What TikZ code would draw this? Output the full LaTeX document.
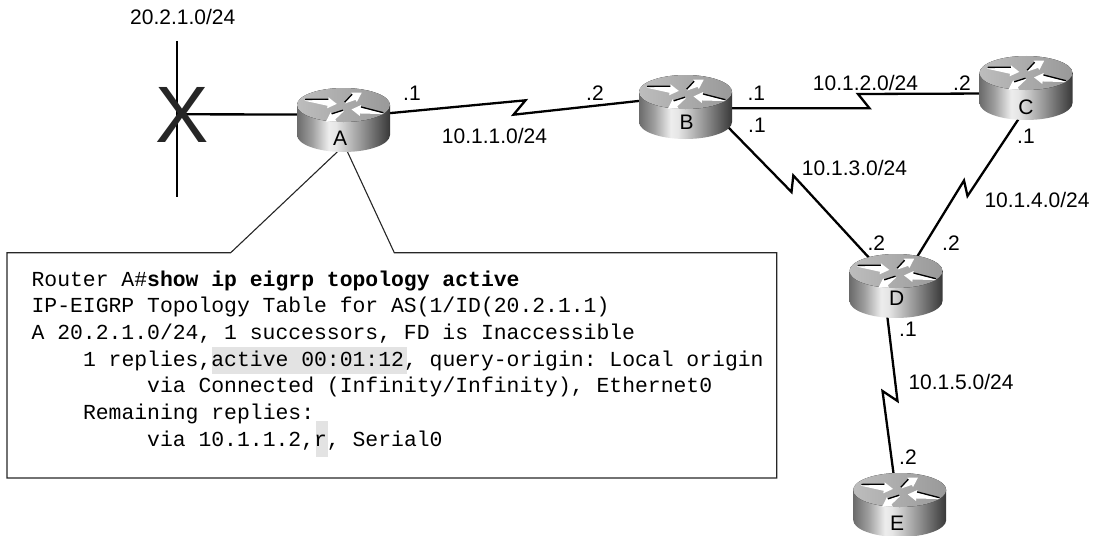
\documentclass[tikz,border=0pt]{standalone}
\usepackage{fontspec}
\setmainfont{Liberation Sans}
\setmonofont{Liberation Mono}
\usetikzlibrary{positioning,shapes.geometric,backgrounds}
\pgfdeclarehorizontalshading{routerside}{100bp}{rgb(0bp)=(0.42,0.42,0.42); rgb(25bp)=(0.42,0.42,0.42); rgb(33bp)=(0.62,0.62,0.62); rgb(42bp)=(0.93,0.93,0.93); rgb(46bp)=(0.9,0.9,0.9); rgb(60bp)=(0.58,0.58,0.58); rgb(75bp)=(0.22,0.22,0.22); rgb(100bp)=(0.22,0.22,0.22)}
\tikzset{routerdisc/.pic={
    \shade[shading=routerside] (-46.5,0) -- (-46.5,-30) arc[start angle=180,end angle=360,x radius=46.5pt,y radius=17pt] -- (46.5,0) -- cycle;
    \fill[left color=black!26,right color=black!40] (0,0) ellipse [x radius=46.5pt,y radius=17pt];
    \foreach \tx/\ty/\ang/\len/\sgn in {-38.5/5/-7/32/1,1.5/2.3/31/19.5/1,39.8/-8.3/173/32/-1,-0.2/-5.7/212.5/20.5/-1} {
      \begin{scope}[shift={(\tx,\ty)},rotate=\ang,yscale=\sgn]
        \fill[white] (0,0) -- (\len-9,3) -- (\len-9,5.5) -- (\len,0) -- (\len-9,-5.5) -- (\len-9,-3) -- (0,-0.8) -- cycle;
        \draw[black,line width=1.3pt] (0,0.6) -- (\len-9,3.6);
      \end{scope}
    }
}}
\begin{document}
\begin{tikzpicture}[x=1pt,y=1pt]
    \tikzstyle{routerbase} = [ellipse, minimum width=80pt, minimum height=50pt, inner sep=0pt]
    \tikzstyle{serial} = [line width=2.3pt, line join=miter, black]
    \tikzstyle{ether} = [line width=2.3pt, black]
    \tikzstyle{callout} = [line width=1.1pt, black!85, line join=miter]
    \tikzstyle{net} = [anchor=base west, inner sep=0pt, font=\fontsize{21}{25}\selectfont]
    \tikzstyle{rlabel} = [inner sep=0pt, font=\fontsize{21}{25}\selectfont]
    \tikzstyle{cli} = [anchor=base west, inner sep=0pt, font=\fontsize{21.4}{26}\ttfamily]
    \tikzstyle{hilite} = [fill=black!11]
    \useasboundingbox (0,0) rectangle (1094,-535);
    % routers
    \node[routerbase] (routerA) at (343.5,-120) {};
    \node[routerbase] (routerB) at (685.5,-107.5) {};
    \node[routerbase] (routerC) at (1026,-88) {};
    \node[routerbase] (routerD) at (896,-286) {};
    \node[routerbase] (routerE) at (899.7,-505) {};
    \coordinate (kinkAB1) at (525.5,-100.3);
    \coordinate (kinkAB2) at (513.5,-114.7);
    \coordinate (kinkBC1) at (869.5,-108.3);
    \coordinate (kinkBC2) at (858,-94);
    \coordinate (kinkBD1) at (791.5,-192);
    \coordinate (kinkBD2) at (793.3,-175.5);
    \coordinate (kinkCD1) at (967.5,-196);
    \coordinate (kinkCD2) at (964,-180.5);
    \coordinate (kinkDE1) at (897.5,-401);
    \coordinate (kinkDE2) at (882.5,-391);
    \coordinate (segTop) at (176.7,-41);
    \coordinate (segMid) at (176.7,-114.3);
    \coordinate (segBot) at (176.7,-197);
    \coordinate (calloutL) at (230.7,-252.7);
    \coordinate (calloutR) at (394.3,-252.7);
    \begin{pgfonlayer}{background}
      \draw[callout] (routerA.-88) -- (calloutR) -- (776.7,-252.7) -- (776.7,-478) -- (7,-478) -- (7,-252.7) -- (calloutL) -- cycle;
      \draw[ether] (segTop) -- (segBot);
      \draw[ether] (routerA.172) -- (segMid);
      \draw[serial] (routerA.9) -- (kinkAB1) -- (kinkAB2) -- (routerB.169);
      \draw[serial] (routerB.-1) -- (kinkBC1) -- (kinkBC2) -- (routerC.188.6);
      \draw[serial] (routerB.-19) -- (kinkBD1) -- (kinkBD2) -- (routerD.134);
      \draw[serial] (routerC.262.7) -- (kinkCD1) -- (kinkCD2) -- (routerD.53.4);
      \draw[serial] (routerD.249.4) -- (kinkDE1) -- (kinkDE2) -- (routerE.102.4);
    \end{pgfonlayer}
    \pic at (343.5,-105) {routerdisc};
    \pic at (685.5,-92) {routerdisc};
    \pic at (1026,-73) {routerdisc};
    \pic at (896,-271) {routerdisc};
    \pic at (899.7,-490) {routerdisc};
    \node[rlabel] (labelA) at (340,-138) {A};
    \node[rlabel] (labelB) at (686.7,-122) {B};
    \node[rlabel] (labelC) at (1026,-107) {C};
    \node[rlabel] (labelD) at (896.7,-298) {D};
    \node[rlabel] (labelE) at (897,-523) {E};
    \node[inner sep=0pt, text=black!85, font=\fontsize{80}{80}\selectfont] (xmark) at (181.7,-114.5) {X};
    % addresses
    \node[net] (netLan) at (130,-25) {20.2.1.0/24};
    \node[net] (netAB) at (441.7,-143.3) {10.1.1.0/24};
    \node[net] (netBC) at (812.7,-90) {10.1.2.0/24};
    \node[net] (netBD) at (801.7,-175.7) {10.1.3.0/24};
    \node[net] (netCD) at (984.3,-207.3) {10.1.4.0/24};
    \node[net] (netDE) at (908.3,-389.3) {10.1.5.0/24};
    \node[net] (ipA) at (403,-100.7) {.1};
    \node[net] (ipBa) at (586,-100.7) {.2};
    \node[net] (ipBb) at (747.3,-100.7) {.1};
    \node[net] (ipBc) at (748,-132.7) {.1};
    \node[net] (ipCa) at (953,-90) {.2};
    \node[net] (ipCb) at (1017,-143.3) {.1};
    \node[net] (ipDa) at (867.3,-250) {.2};
    \node[net] (ipDb) at (942,-250) {.2};
    \node[net] (ipDc) at (899,-336.7) {.1};
    \node[net] (ipE) at (899,-464.3) {.2};
    % router output
    \fill[hilite] (211.5,-347.3) rectangle (407,-374);
    \fill[hilite] (316,-421) rectangle (327.6,-456.7);
    \node[cli] (cli1) at (31.4,-286) {Router A\#\textbf{show ip eigrp topology active}};
    \node[cli] (cli2) at (31.4,-312.7) {IP-EIGRP Topology Table for AS(1/ID(20.2.1.1)};
    \node[cli] (cli3) at (31.4,-339.3) {A 20.2.1.0/24, 1 successors, FD is Inaccessible};
    \node[cli] (cli4) at (82.8,-366) {1 replies,active 00:01:12, query-origin: Local origin};
    \node[cli] (cli5) at (147,-392.7) {via Connected (Infinity/Infinity), Ethernet0};
    \node[cli] (cli6) at (82.8,-419.3) {Remaining replies:};
    \node[cli] (cli7) at (147,-446) {via 10.1.1.2,r, Serial0};
\end{tikzpicture}
\end{document}
